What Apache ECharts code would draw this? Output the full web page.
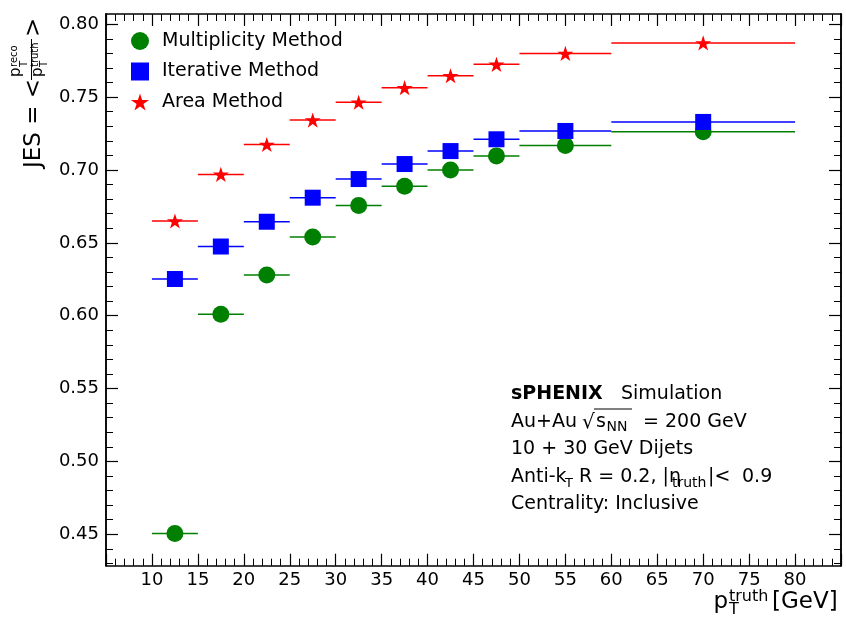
<!DOCTYPE html>
<html>
<head>
<meta charset="utf-8">
<script src="https://cdn.jsdelivr.net/npm/echarts@6/dist/echarts.min.js"></script>
<style>
  html, body { margin: 0; padding: 0; background: #fff; }
  #chart { width: 846px; height: 629px; }
</style>
</head>
<body>
<div id="chart"></div>
<script>
// Jet energy scale versus truth jet pT for three background-subtraction methods.
const binLow  = [10, 15, 20, 25, 30, 35, 40, 45, 50, 60];
const binHigh = [15, 20, 25, 30, 35, 40, 45, 50, 60, 80];

const multiplicityJES = [0.4505, 0.601, 0.628, 0.654, 0.6757, 0.6888, 0.700, 0.7097, 0.7168, 0.7263];
const iterativeJES    = [0.6252, 0.6475, 0.6645, 0.681, 0.6938, 0.7041, 0.713, 0.7211, 0.7268, 0.7330];
const areaJES         = [0.6650, 0.6970, 0.7175, 0.7343, 0.7465, 0.7565, 0.7647, 0.7725, 0.7800, 0.7872];

const seriesNames = ['Multiplicity Method', 'Iterative Method', 'Area Method'];

const xTickLabels = [10, 15, 20, 25, 30, 35, 40, 45, 50, 55, 60, 65, 70, 75, 80];
const yTickLabels = [0.45, 0.50, 0.55, 0.60, 0.65, 0.70, 0.75, 0.80];

const X_MIN = 5, X_MAX = 85;
const Y_MIN = 0.42845, Y_MAX = 0.80707;

// minor y ticks every 0.01
const yMinorTicks = [];
for (let k = 43; k <= 80; k++) yMinorTicks.push(k / 100);

const FONT = 'DejaVu Sans';
const GREEN = '#008000', BLUE = '#0000ff', RED = '#ff0000';
const STAR = 'path://M100,0L122.45,69.1L195.11,69.1L136.33,111.8L158.78,180.9L100,138.2L41.22,180.9L63.67,111.8L4.89,69.1L77.55,69.1Z';

function centers(values) {
  return values.map((v, i) => [(binLow[i] + binHigh[i]) / 2, v]);
}
function spans(values) {
  return values.map((v, i) => [binLow[i], binHigh[i], v]);
}

// horizontal bars showing the width of each truth-pT bin
function binWidthSeries(values, color) {
  return {
    type: 'custom',
    silent: true,
    xAxisIndex: 0, yAxisIndex: 0,
    data: spans(values),
    encode: { x: [0, 1], y: 2 },
    renderItem(params, api) {
      const a = api.coord([api.value(0), api.value(2)]);
      const b = api.coord([api.value(1), api.value(2)]);
      return {
        type: 'line',
        shape: { x1: a[0], y1: a[1], x2: b[0], y2: b[1] },
        style: { stroke: color, lineWidth: 1.5 }
      };
    }
  };
}

function markerSeries(name, values, color, symbol, size) {
  return {
    type: 'scatter',
    name,
    xAxisIndex: 0, yAxisIndex: 0,
    data: centers(values),
    symbol,
    symbolSize: size,
    symbolKeepAspect: true,
    itemStyle: { color, opacity: 1 },
    emphasis: { disabled: true }
  };
}

function xAxisDef(position, showLabels) {
  return {
    type: 'value', position, gridIndex: 0,
    min: X_MIN, max: X_MAX, interval: 5,
    axisLine: { show: true, onZero: false, lineStyle: { color: '#000', width: 1.5 } },
    axisTick: { show: true, inside: true, length: 12, lineStyle: { color: '#000', width: 1.2 } },
    minorTick: { show: true, splitNumber: 5, length: 7, lineStyle: { color: '#000', width: 1 } },
    axisLabel: {
      show: showLabels, customValues: xTickLabels,
      fontFamily: FONT, fontSize: 18, color: '#000', margin: 6
    },
    splitLine: { show: false }, minorSplitLine: { show: false }
  };
}

function yAxisDef(position, ticks, len, width, showLabels) {
  return {
    type: 'value', position, gridIndex: 0,
    min: Y_MIN, max: Y_MAX,
    axisLine: { show: true, onZero: false, lineStyle: { color: '#000', width: 1.5 } },
    axisTick: { show: true, inside: true, length: len, customValues: ticks, lineStyle: { color: '#000', width } },
    axisLabel: {
      show: showLabels, customValues: ticks,
      formatter: v => v.toFixed(2),
      fontFamily: FONT, fontSize: 18, color: '#000', margin: 7
    },
    splitLine: { show: false }
  };
}

// text placed by its baseline
function txt(x, base, text, size, extra) {
  return {
    type: 'text', x, y: base - 0.346 * size, silent: true,
    style: Object.assign({
      text, fontFamily: FONT, fontSize: size, fill: '#000',
      align: 'left', textAlign: 'left', verticalAlign: 'middle', textVerticalAlign: 'middle'
    }, extra || {})
  };
}
function rule(x1, y1, x2, y2, w) {
  return { type: 'line', silent: true, shape: { x1, y1, x2, y2 }, style: { stroke: '#000', lineWidth: w || 1 } };
}

const graphics = [
  // y-axis title: JES = < pT(reco) / pT(truth) >, drawn reading upwards
  {
    type: 'group', x: 42, y: 14, rotation: Math.PI / 2, silent: true,
    children: [
      txt(-154, 0, 'JES = <', 23),
      txt(-63, -20.5, 'p', 15),
      txt(-53, -24, 'reco', 10),
      txt(-53, -14, 'T', 10),
      rule(-66, -10.5, -25, -10.5, 1),
      txt(-63, 1, 'p', 15),
      txt(-53, -3, 'truth', 10),
      txt(-53, 6, 'T', 10),
      txt(-23, 0, '>', 23)
    ]
  },
  // x-axis title
  txt(713.5, 610, 'p', 23),
  txt(729, 602, 'truth', 16),
  txt(729, 615, 'T', 16),
  txt(772, 610, '[GeV]', 23),

  // annotation block
  txt(511, 401, 'sPHENIX', 19, { fontWeight: 'bold' }),
  txt(621, 401, 'Simulation', 19),
  txt(511, 428.5, 'Au+Au', 19),
  txt(582, 430, '\u221A', 20),
  rule(594, 409, 632, 409, 1),
  txt(596, 428.5, 's', 19),
  txt(606.5, 432.5, 'NN', 14),
  txt(643, 428.5, '= 200 GeV', 19),
  txt(511, 456, '10 + 30 GeV Dijets', 19),
  txt(511, 484, 'Anti-k', 19),
  txt(565, 488, 'T', 13),
  txt(579, 484, 'R = 0.2, |\u03B7', 19),
  txt(672, 488, 'truth', 14),
  txt(708, 484, '|<', 19),
  txt(742, 484, '0.9', 19),
  txt(511, 511, 'Centrality: Inclusive', 19)
];

const chart = echarts.init(document.getElementById('chart'), null, { renderer: 'canvas' });
chart.setOption({
  animation: false,
  backgroundColor: '#fff',
  textStyle: { fontFamily: FONT },
  grid: { left: 106, right: 5, top: 14, bottom: 63.3, containLabel: false },
  legend: {
    data: seriesNames,
    orient: 'vertical',
    left: 131, top: 31.5, padding: 0,
    itemWidth: 18, itemHeight: 18, itemGap: 11.5,
    selectedMode: false,
    textStyle: { fontFamily: FONT, fontSize: 19, color: '#000', padding: [0, 0, 0, 8] }
  },
  xAxis: [xAxisDef('bottom', true), xAxisDef('top', false)],
  yAxis: [
    yAxisDef('left', yTickLabels, 12, 1.2, true),
    yAxisDef('left', yMinorTicks, 7, 1, false),
    yAxisDef('right', yTickLabels, 12, 1.2, false),
    yAxisDef('right', yMinorTicks, 7, 1, false)
  ],
  series: [
    binWidthSeries(multiplicityJES, GREEN),
    markerSeries(seriesNames[0], multiplicityJES, GREEN, 'circle', 17),
    binWidthSeries(iterativeJES, BLUE),
    markerSeries(seriesNames[1], iterativeJES, BLUE, 'rect', 16),
    binWidthSeries(areaJES, RED),
    markerSeries(seriesNames[2], areaJES, RED, STAR, 16)
  ],
  graphic: graphics
});
</script>
</body>
</html>
